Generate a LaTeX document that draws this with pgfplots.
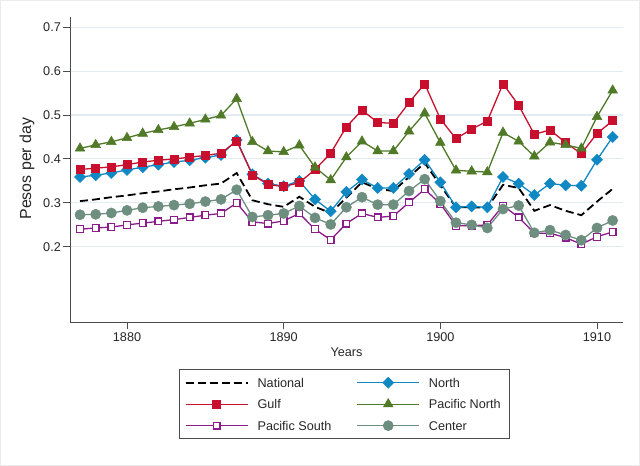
\documentclass[border=0pt]{standalone}
\usepackage{fontspec}
\setmainfont{Liberation Sans}
\usepackage{pgfplots}
\pgfplotsset{compat=1.18}
\usepackage{pgfplotstable}

\definecolor{cNorth}{RGB}{16,136,196}
\definecolor{cGulf}{RGB}{200,16,46}
\definecolor{cPacN}{RGB}{80,122,40}
\definecolor{cPacS}{RGB}{140,28,140}
\definecolor{cCenter}{RGB}{110,142,128}
\definecolor{gridc}{RGB}{226,235,240}

\newcommand\lstrut{\rule[-3bp]{0pt}{14bp}}

\pgfplotstableread{
year nat north gulf pacn pacs center
1877 0.304 0.359 0.376 0.424 0.240 0.273
1878 0.308 0.363 0.379 0.432 0.243 0.274
1879 0.313 0.368 0.382 0.439 0.245 0.277
1880 0.317 0.375 0.387 0.448 0.250 0.283
1881 0.322 0.381 0.393 0.458 0.254 0.289
1882 0.326 0.387 0.397 0.466 0.258 0.292
1883 0.331 0.393 0.400 0.473 0.262 0.295
1884 0.335 0.397 0.404 0.481 0.267 0.298
1885 0.340 0.403 0.408 0.490 0.272 0.303
1886 0.344 0.409 0.413 0.499 0.276 0.308
1887 0.368 0.443 0.441 0.537 0.300 0.330
1888 0.306 0.365 0.364 0.439 0.257 0.268
1889 0.297 0.344 0.342 0.418 0.253 0.272
1890 0.291 0.338 0.337 0.416 0.259 0.276
1891 0.314 0.350 0.346 0.431 0.276 0.293
1892 0.291 0.308 0.376 0.381 0.240 0.266
1893 0.277 0.281 0.413 0.352 0.216 0.251
1894 0.312 0.325 0.473 0.404 0.253 0.290
1895 0.347 0.353 0.511 0.440 0.276 0.313
1896 0.332 0.334 0.483 0.418 0.267 0.296
1897 0.327 0.334 0.481 0.418 0.270 0.296
1898 0.359 0.366 0.528 0.463 0.301 0.327
1899 0.391 0.398 0.571 0.504 0.331 0.354
1900 0.340 0.347 0.491 0.437 0.298 0.304
1901 0.290 0.290 0.446 0.374 0.248 0.255
1902 0.290 0.292 0.468 0.372 0.248 0.250
1903 0.289 0.290 0.486 0.370 0.250 0.243
1904 0.341 0.359 0.571 0.460 0.294 0.286
1905 0.334 0.344 0.522 0.440 0.267 0.294
1906 0.282 0.318 0.456 0.406 0.231 0.232
1907 0.295 0.344 0.466 0.438 0.231 0.238
1908 0.282 0.340 0.437 0.432 0.221 0.227
1909 0.272 0.339 0.412 0.424 0.206 0.215
1910 0.303 0.398 0.458 0.496 0.223 0.243
1911 0.332 0.450 0.487 0.556 0.234 0.260
}\datatable

\begin{document}
\begin{tikzpicture}
\path[use as bounding box, fill=white, draw=black!8, line width=1bp] (0.5bp,0.5bp) rectangle (639.5bp,465.5bp);
\path (0,0) rectangle (640bp,466bp);
\begin{axis}[
  at={(70bp,144bp)}, anchor=south west,
  scale only axis, width=553bp, height=305bp,
  xmin=1876.36, xmax=1911.66, ymin=0.029, ymax=0.723,
  axis x line*=bottom, axis y line*=left,
  axis line style={black!70, line width=0.9bp, -},
  xtick={1880,1890,1900,1910},
  ytick={0.2,0.3,0.4,0.5,0.6,0.7},
  yticklabel style={inner xsep=2bp, /pgf/number format/fixed, /pgf/number format/fixed zerofill, /pgf/number format/precision=1},
  xticklabel style={/pgf/number format/1000 sep={}},
  /pgf/number format/assume math mode=true,
  tick align=outside, major tick length=7bp,
  tick style={black!70, line width=0.9bp},
  ymajorgrids, grid style={color=gridc, line width=1.1bp},
  tick label style={font=\fontsize{12.7}{15}\selectfont, text=black!85},
  xlabel={Years}, ylabel={Pesos per day},
  every axis x label/.style={at={(axis description cs:0.5,-0.1138)}, anchor=base, font=\fontsize{12.7}{15}\selectfont, text=black!85},
  every axis y label/.style={at={(axis description cs:-0.0705,0.503)}, rotate=90, anchor=base, font=\fontsize{16}{19}\selectfont, text=black!85},
  legend columns=2,
  legend cell align=left,
  legend style={at={(axis description cs:0.497,-0.154)}, anchor=north,
    draw=black!70, line width=0.9bp, inner xsep=5bp, inner ysep=7bp,
    row sep=9bp, column sep=0pt, font=\fontsize{12.7}{15}\selectfont,
    text=black!85,
    nodes={inner sep=0pt},
    /tikz/every odd column/.style={column sep=9bp}},
  legend image code/.code={\draw[mark repeat=2,mark phase=2,#1] plot coordinates {(0bp,0bp) (31bp,0bp) (62bp,0bp)};},
]
\addplot[black, line width=1.8bp, dash pattern=on 8bp off 4bp] table[x=year,y=nat]{\datatable};
\addlegendentry{\makebox[99bp][l]{\lstrut National}}
\addplot[cNorth, line width=1.3bp, mark=square*, mark size=3.9bp, mark options={rotate=45, fill=cNorth, line width=0.5bp}] table[x=year,y=north]{\datatable};
\addlegendentry{\makebox[76bp][l]{\lstrut North}}
\addplot[cGulf, line width=1.3bp, mark=square*, mark size=4bp, mark options={fill=cGulf, line width=0.5bp}] table[x=year,y=gulf]{\datatable};
\addlegendentry{\makebox[99bp][l]{\lstrut Gulf}}
\addplot[cPacN, line width=1.3bp, mark=triangle*, mark size=5.6bp, mark options={fill=cPacN, line width=0.5bp}] table[x=year,y=pacn]{\datatable};
\addlegendentry{\makebox[76bp][l]{\lstrut Pacific North}}
\addplot[cPacS, line width=1.3bp, mark=square*, mark size=3.4bp, mark options={fill=white, line width=1.2bp}] table[x=year,y=pacs]{\datatable};
\addlegendentry{\makebox[99bp][l]{\lstrut Pacific South}}
\addplot[cCenter, line width=1.3bp, mark=*, mark size=5.1bp, mark options={fill=cCenter, line width=0.5bp}] table[x=year,y=center]{\datatable};
\addlegendentry{\makebox[76bp][l]{\lstrut Center}}
\end{axis}
\end{tikzpicture}
\end{document}
